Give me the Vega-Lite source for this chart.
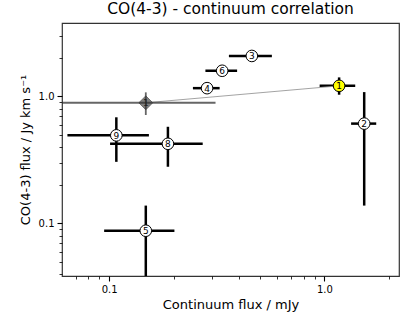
{
  "$schema": "https://vega.github.io/schema/vega-lite/v6.json",
  "width": 337,
  "height": 253,
  "autosize": {"type": "none"},
  "padding": {"left": 62, "top": 23, "right": 20, "bottom": 39},
  "title": {"text": "CO(4-3) - continuum correlation", "fontSize": 15.5, "fontWeight": "normal", "color": "black", "font": "DejaVu Sans", "offset": 6, "frame": "group"},
  "config": {
    "font": "DejaVu Sans",
    "view": {"stroke": "#333", "strokeWidth": 1.2},
    "axis": {"domain": false, "grid": false, "tickColor": "black", "labelColor": "black", "titleColor": "black", "labelFontSize": 10, "titleFontSize": 13, "titleFontWeight": "normal", "labelOverlap": false, "labelFlush": false, "labelPadding": 3}
  },
  "datasets": {
    "pts": [
      {"id": "1", "kind": "yellow", "x": 1.17, "y": 1.21, "xlo": 0.95, "xhi": 1.39, "ylo": 1.03, "yhi": 1.41},
      {"id": "2", "kind": "circle", "x": 1.53, "y": 0.61, "xlo": 1.33, "xhi": 1.74, "ylo": 0.138, "yhi": 1.08},
      {"id": "3", "kind": "circle", "x": 0.46, "y": 2.08, "xlo": 0.36, "xhi": 0.57, "ylo": 2.0, "yhi": 2.16},
      {"id": "4", "kind": "circle", "x": 0.285, "y": 1.16, "xlo": 0.245, "xhi": 0.326, "ylo": 1.11, "yhi": 1.21},
      {"id": "5", "kind": "circle", "x": 0.148, "y": 0.0875, "xlo": 0.0948, "xhi": 0.201, "ylo": 0.03, "yhi": 0.138},
      {"id": "6", "kind": "circle", "x": 0.335, "y": 1.59, "xlo": 0.28, "xhi": 0.393, "ylo": 1.53, "yhi": 1.65},
      {"id": "8", "kind": "circle", "x": 0.1875, "y": 0.423, "xlo": 0.101, "xhi": 0.272, "ylo": 0.279, "yhi": 0.576},
      {"id": "9", "kind": "circle", "x": 0.108, "y": 0.493, "xlo": 0.064, "xhi": 0.153, "ylo": 0.305, "yhi": 0.684},
      {"id": "1", "kind": "diamond", "x": 0.148, "y": 0.89, "xlo": 0.04, "xhi": 0.312, "ylo": 0.713, "yhi": 1.075}
    ],
    "link": [
      {"x": 0.148, "y": 0.89},
      {"x": 1.17, "y": 1.21}
    ]
  },
  "data": {"name": "pts"},
  "encoding": {
    "x": {"field": "x", "type": "quantitative",
      "scale": {"type": "log", "domain": [0.0604, 2.22], "nice": false, "zero": false},
      "axis": {"title": "Continuum flux / mJy", "values": [0.07, 0.08, 0.09, 0.1, 0.2, 0.3, 0.4, 0.5, 0.6, 0.7, 0.8, 0.9, 1, 2],
        "labelExpr": "datum.value == 0.1 ? '0.1' : (datum.value == 1 ? '1.0' : '')",
        "tickSize": {"condition": {"test": "datum.value == 0.1 || datum.value == 1", "value": 5}, "value": 3},
        "tickWidth": {"condition": {"test": "datum.value == 0.1 || datum.value == 1", "value": 1.1}, "value": 0.8},
        "titlePadding": 4}},
    "y": {"field": "y", "type": "quantitative",
      "scale": {"type": "log", "domain": [0.0385, 3.78], "nice": false, "zero": false},
      "axis": {"title": "CO(4-3) flux / Jy km s⁻¹", "values": [0.04, 0.05, 0.06, 0.07, 0.08, 0.09, 0.1, 0.2, 0.3, 0.4, 0.5, 0.6, 0.7, 0.8, 0.9, 1, 2, 3],
        "labelExpr": "datum.value == 0.1 ? '0.1' : (datum.value == 1 ? '1.0' : '')",
        "tickSize": {"condition": {"test": "datum.value == 0.1 || datum.value == 1", "value": 5}, "value": 3},
        "tickWidth": {"condition": {"test": "datum.value == 0.1 || datum.value == 1", "value": 1.1}, "value": 0.8},
        "titlePadding": 6}}
  },
  "layer": [
    {"transform": [{"filter": "datum.kind != 'diamond'"}],
     "mark": {"type": "rule", "color": "black", "strokeWidth": 2.5, "clip": true},
     "encoding": {"x": {"field": "xlo", "type": "quantitative"}, "x2": {"field": "xhi"}}},
    {"transform": [{"filter": "datum.kind != 'diamond'"}],
     "mark": {"type": "rule", "color": "black", "strokeWidth": 2.5, "clip": true},
     "encoding": {"y": {"field": "ylo", "type": "quantitative"}, "y2": {"field": "yhi"}}},
    {"data": {"name": "link"},
     "mark": {"type": "line", "color": "#999", "strokeWidth": 0.9},
     "encoding": {}},
    {"transform": [{"filter": "datum.kind != 'diamond'"}],
     "mark": {"type": "point", "shape": "circle", "filled": true, "size": 135, "stroke": "black", "strokeWidth": 1, "opacity": 1},
     "encoding": {"fill": {"field": "kind", "type": "nominal", "scale": {"domain": ["circle", "yellow"], "range": ["white", "#ffff00"]}, "legend": null}}},
    {"transform": [{"filter": "datum.kind == 'diamond'"}],
     "mark": {"type": "point", "shape": "diamond", "filled": true, "size": 190, "fill": "#808080", "stroke": "#666", "strokeWidth": 1, "opacity": 1},
     "encoding": {}},
    {"transform": [{"filter": "datum.kind == 'diamond'"}],
     "mark": {"type": "rule", "color": "#333", "strokeWidth": 1.8, "clip": true, "opacity": 0.75},
     "encoding": {"x": {"field": "xlo", "type": "quantitative"}, "x2": {"field": "xhi"}}},
    {"transform": [{"filter": "datum.kind == 'diamond'"}],
     "mark": {"type": "rule", "color": "#333", "strokeWidth": 1.8, "clip": true, "opacity": 0.75},
     "encoding": {"y": {"field": "ylo", "type": "quantitative"}, "y2": {"field": "yhi"}}},
    {"mark": {"type": "text", "fontSize": 9, "align": "center", "baseline": "middle", "color": "black", "dy": 0.5},
     "encoding": {"text": {"field": "id"}, "color": {"condition": {"test": "datum.kind == 'diamond'", "value": "#222"}, "value": "black"}}}
  ]
}
